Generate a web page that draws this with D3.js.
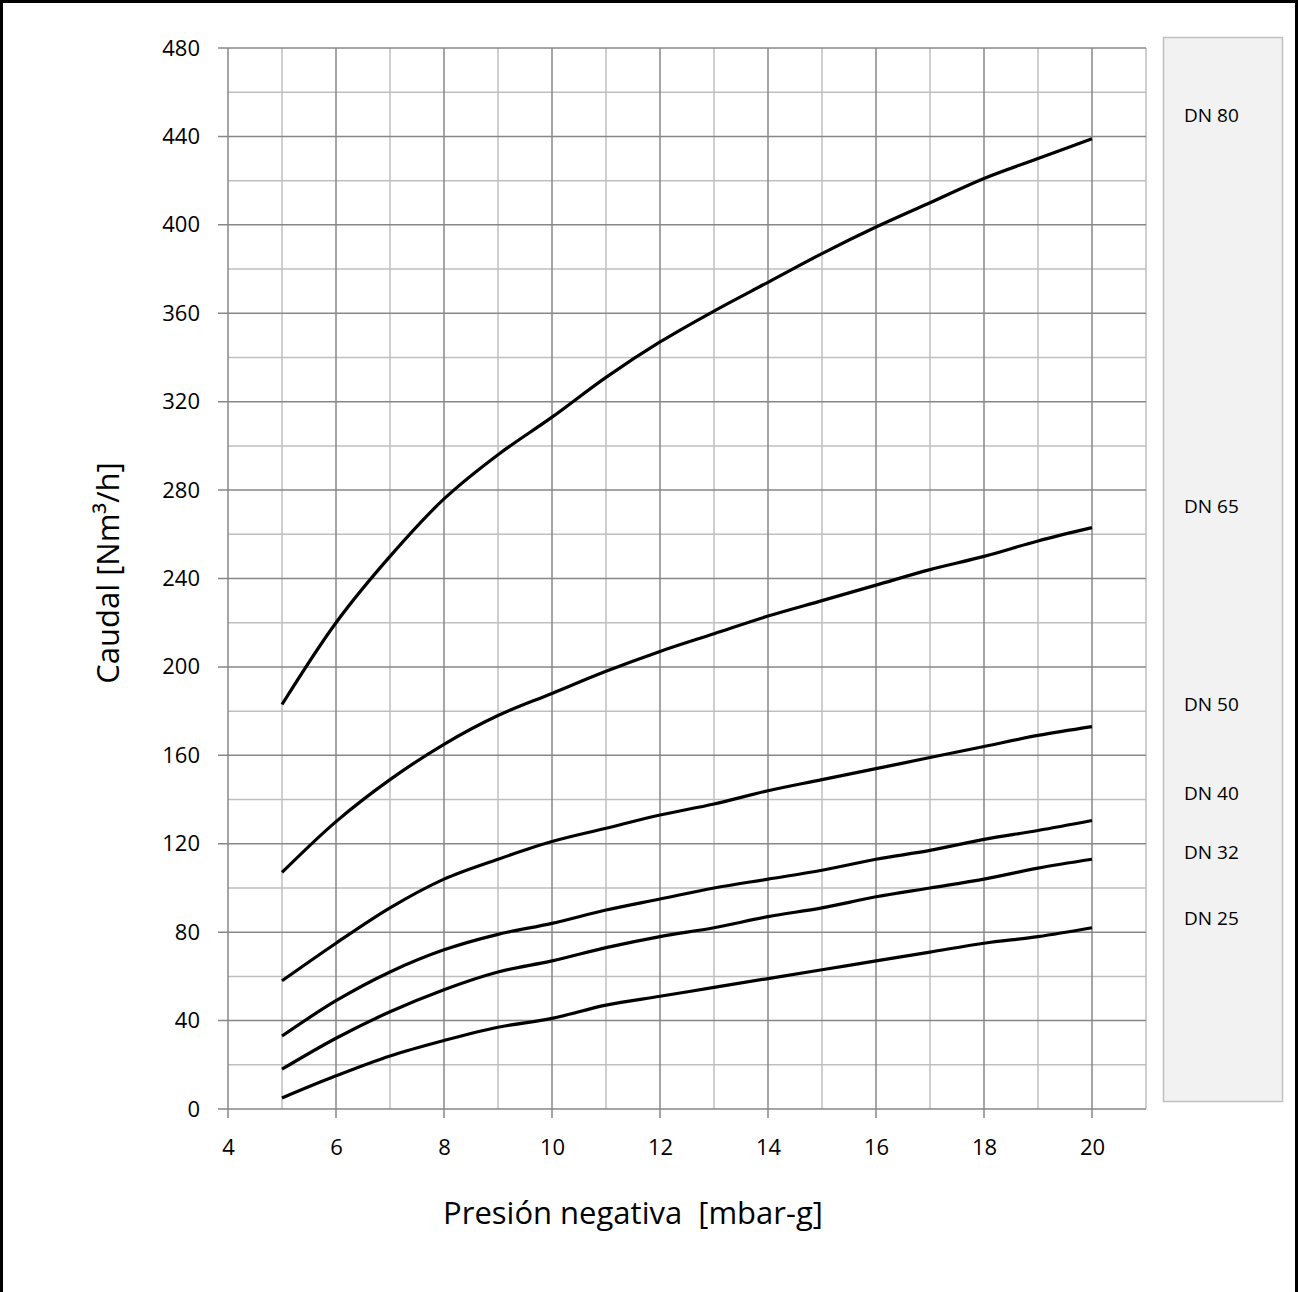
<!DOCTYPE html>
<html>
<head>
<meta charset="utf-8">
<script src="https://cdn.jsdelivr.net/npm/d3@7"></script>
<style>
  body { margin: 0; background: #fff; }
  svg { display: block; }
  text { font-family: "Open Sans", "Noto Sans", sans-serif; fill: #000; white-space: pre; }
</style>
</head>
<body>
<script>
const pressure = [5, 6, 7, 8, 9, 10, 11, 12, 13, 14, 15, 16, 17, 18, 19, 20];

const dn80 = [183, 220, 250, 276, 296, 313, 331, 347, 361, 374, 387, 399, 410, 421, 430, 439];
const dn65 = [107, 130, 149, 165, 178, 188, 198, 207, 215, 223, 230, 237, 244, 250, 257, 263];
const dn50 = [58, 75, 91, 104, 113, 121, 127, 133, 138, 144, 149, 154, 159, 164, 169, 173];
const dn40 = [33, 49, 62, 72, 79, 84, 90, 95, 100, 104, 108, 113, 117, 122, 126, 130.5];
const dn32 = [18, 32, 44, 54, 62, 67, 73, 78, 82, 87, 91, 96, 100, 104, 109, 113];
const dn25 = [5, 15, 24, 31, 37, 41, 47, 51, 55, 59, 63, 67, 71, 75, 78, 82];

const seriesNames = ["DN 80", "DN 65", "DN 50", "DN 40", "DN 32", "DN 25"];
const seriesValues = [dn80, dn65, dn50, dn40, dn32, dn25];

const xTicks = [4, 6, 8, 10, 12, 14, 16, 18, 20];
const yTicks = [0, 40, 80, 120, 160, 200, 240, 280, 320, 360, 400, 440, 480];

// legend text rows (pixel rows inside the legend box)
const legendRowY = [115, 506, 704, 793, 852, 918];

const W = 1298, H = 1292;
const margin = {top: 48, right: 152, bottom: 183, left: 228};
const width = W - margin.left - margin.right;
const height = H - margin.top - margin.bottom;

const svg = d3.select("body").append("svg")
  .attr("width", W)
  .attr("height", H);

// outer frame (bottom edge is off the picture)
svg.append("path")
  .attr("d", `M1.5,${H + 5}V1.5H${W - 1.5}V${H + 5}`)
  .attr("fill", "none")
  .attr("stroke", "#000")
  .attr("stroke-width", 3);

const g = svg.append("g")
  .attr("transform", `translate(${margin.left}, ${margin.top})`);

const x = d3.scaleLinear().domain([4, 21]).range([0, width]);
const y = d3.scaleLinear().domain([0, 480]).range([height, 0]);

const minorX = d3.range(5, 22, 2);
const majorX = d3.range(4, 21, 2);
const minorY = d3.range(20, 480, 40);
const majorY = yTicks;

// minor grid first, major on top
g.append("g").selectAll("line")
  .data(minorX)
  .enter().append("line")
    .attr("x1", d => x(d)).attr("x2", d => x(d))
    .attr("y1", 0).attr("y2", height)
    .attr("stroke", "#bfbfbf").attr("stroke-width", 1.5);

g.append("g").selectAll("line")
  .data(minorY)
  .enter().append("line")
    .attr("x1", 0).attr("x2", width)
    .attr("y1", d => y(d)).attr("y2", d => y(d))
    .attr("stroke", "#bfbfbf").attr("stroke-width", 1.5);

g.append("g").selectAll("line")
  .data(majorY)
  .enter().append("line")
    .attr("x1", -10).attr("x2", width)
    .attr("y1", d => y(d)).attr("y2", d => y(d))
    .attr("stroke", "#878787").attr("stroke-width", 1.5);

g.append("g").selectAll("line")
  .data(majorX)
  .enter().append("line")
    .attr("x1", d => x(d)).attr("x2", d => x(d))
    .attr("y1", 0).attr("y2", height + 9)
    .attr("stroke", "#878787").attr("stroke-width", 1.5);

// tick labels
const yAxis = g.append("g")
  .call(d3.axisLeft(y).tickValues(yTicks).tickSize(0).tickPadding(28));
const xAxis = g.append("g")
  .attr("transform", `translate(0, ${height})`)
  .call(d3.axisBottom(x).tickValues(xTicks).tickSize(0).tickPadding(30));
[yAxis, xAxis].forEach(a => {
  a.select(".domain").remove();
  a.selectAll("text")
    .attr("font-size", "22px")
    .attr("font-family", "'Open Sans', sans-serif")
    .attr("fill", "#000");
});

// curves
const line = d3.line()
  .x((d, i) => x(pressure[i]))
  .y(d => y(d))
  .curve(d3.curveCatmullRom.alpha(0.5));

g.append("g").selectAll("path")
  .data(seriesValues)
  .enter().append("path")
    .attr("d", line)
    .attr("fill", "none")
    .attr("stroke", "#000")
    .attr("stroke-width", 3.2)
    .attr("stroke-linejoin", "round");

// axis titles
svg.append("text")
  .attr("x", 633)
  .attr("y", 1224)
  .attr("text-anchor", "middle")
  .attr("font-size", "31px")
  .text("Presión negativa  [mbar-g]");

svg.append("text")
  .attr("transform", "translate(119, 573) rotate(-90)")
  .attr("text-anchor", "middle")
  .attr("font-size", "31px")
  .text("Caudal [Nm³/h]");

// legend box
const legend = svg.append("g");
legend.append("rect")
  .attr("x", 1163.5).attr("y", 37.5)
  .attr("width", 119).attr("height", 1064)
  .attr("fill", "#f2f2f2")
  .attr("stroke", "#c0c0c0")
  .attr("stroke-width", 1.5);

legend.selectAll("text")
  .data(seriesNames)
  .enter().append("text")
    .attr("x", 1184)
    .attr("y", (d, i) => legendRowY[i])
    .attr("dy", "0.35em")
    .attr("font-size", "19px")
    .text(d => d);
</script>
</body>
</html>
